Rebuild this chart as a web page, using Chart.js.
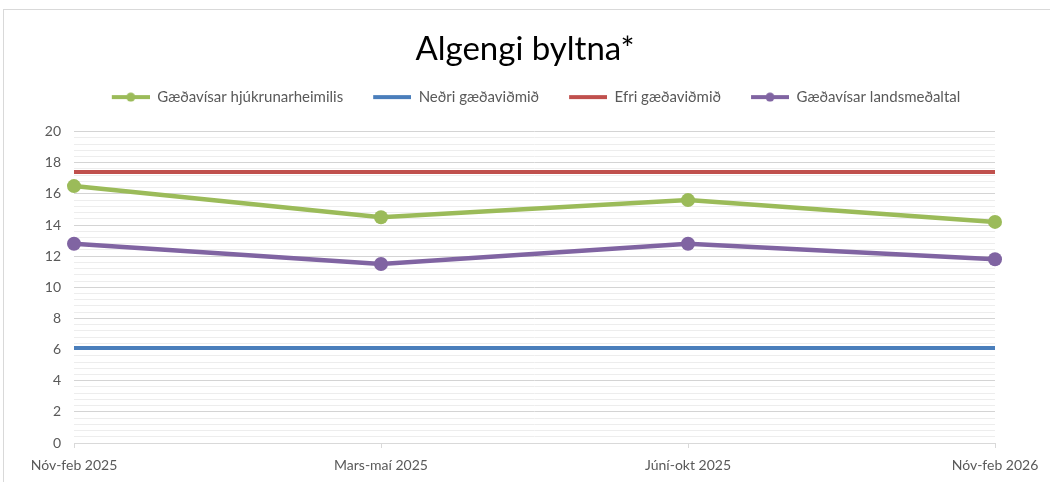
<!DOCTYPE html>
<html>
<head>
<meta charset="utf-8">
<script src="https://cdn.jsdelivr.net/npm/chart.js@4.4.1/dist/chart.umd.min.js"></script>
<style>
    html, body { margin: 0; padding: 0; background: #fff; overflow: hidden; }
    #wrap { position: relative; width: 1050px; height: 482px; }
    #frame { position: absolute; left: 3px; top: 9px; width: 1100px; height: 520px; border: 1px solid #d9d9d9; }
    #chart { position: absolute; left: 0; top: 0; }
</style>
</head>
<body>
<div id="wrap">
    <div id="frame"></div>
    <canvas id="chart" width="1050" height="482"></canvas>
</div>
<script>
// Data
const categories = ['Nóv-feb 2025', 'Mars-maí 2025', 'Júní-okt 2025', 'Nóv-feb 2026'];
const heimilis = [16.5, 14.5, 15.6, 14.2];
const nedriVidmid = [6.1, 6.1, 6.1, 6.1];
const efriVidmid = [17.4, 17.4, 17.4, 17.4];
const landsmedaltal = [12.8, 11.5, 12.8, 11.8];
const yLabels = [0, 2, 4, 6, 8, 10, 12, 14, 16, 18, 20];

const FONT = 'Lato';
const GREY = '#595959';

function isLabelled(v) {
    return yLabels.some(l => Math.abs(l - v) < 1e-6);
}

// small legend icon: line with optional dot, blank space on the left acts as item gap
function legendIcon(color, dot) {
    const c = document.createElement('canvas');
    c.width = 60;
    c.height = 10;
    const ctx = c.getContext('2d');
    ctx.strokeStyle = color;
    ctx.lineWidth = 4;
    ctx.beginPath();
    ctx.moveTo(22, 5);
    ctx.lineTo(60, 5);
    ctx.stroke();
    if (dot) {
        ctx.fillStyle = color;
        ctx.beginPath();
        ctx.arc(41, 5, 4.5, 0, Math.PI * 2);
        ctx.fill();
    }
    return c;
}

const series = [
    { label: 'Gæðavísar hjúkrunarheimilis', data: heimilis, color: '#9bbb59', dot: true },
    { label: 'Neðri gæðaviðmið', data: nedriVidmid, color: '#4a7ebb', dot: false },
    { label: 'Efri gæðaviðmið', data: efriVidmid, color: '#c0504d', dot: false },
    { label: 'Gæðavísar landsmeðaltal', data: landsmedaltal, color: '#8064a2', dot: true }
];

const icons = series.map(s => legendIcon(s.color, s.dot));

new Chart(document.getElementById('chart').getContext('2d'), {
    type: 'line',
    data: {
        labels: categories,
        datasets: series.map(s => ({
            label: s.label,
            data: s.data,
            borderColor: s.color,
            backgroundColor: s.color,
            borderWidth: s.dot ? 4.5 : 4,
            pointRadius: s.dot ? 7 : 0,
            pointHoverRadius: s.dot ? 7 : 0,
            pointBorderWidth: 0,
            tension: 0,
            fill: false,
            order: s.dot ? 0 : 1
        }))
    },
    options: {
        responsive: false,
        animation: false,
        events: [],
        layout: { padding: 0 },
        plugins: {
            title: {
                display: true,
                text: 'Algengi byltna*',
                color: '#000',
                font: { family: FONT, size: 33, weight: 'normal', lineHeight: 1.2 },
                padding: { top: 30, bottom: 12 }
            },
            legend: {
                position: 'top',
                labels: {
                    usePointStyle: true,
                    pointStyleWidth: 60,
                    padding: 8,
                    color: GREY,
                    font: { family: FONT, size: 15 },
                    generateLabels: chart => chart.data.datasets.map((ds, i) => ({
                        text: ds.label,
                        pointStyle: icons[i],
                        fillStyle: ds.borderColor,
                        strokeStyle: ds.borderColor,
                        lineWidth: 0,
                        fontColor: GREY,
                        hidden: false,
                        datasetIndex: i
                    }))
                }
            },
            // blank spacer between legend and plot
            subtitle: {
                display: true,
                text: '',
                weight: 500,
                font: { size: 10, lineHeight: 1 },
                padding: { top: 0, bottom: 7 }
            },
            tooltip: { enabled: false }
        },
        scales: {
            x: {
                offset: false,
                grid: { drawOnChartArea: false, drawTicks: true, tickLength: 5, color: '#d9d9d9' },
                border: { color: '#d9d9d9' },
                ticks: { color: GREY, font: { family: FONT, size: 14 }, padding: 9, maxRotation: 0 },
                afterFit: scale => { scale.height = 39; }
            },
            y: {
                min: 0,
                max: 20,
                border: { display: false },
                grid: {
                    drawTicks: false,
                    color: ctx => isLabelled(ctx.tick.value) ? '#d4d4d4' : '#ededed',
                    lineWidth: 1
                },
                ticks: {
                    stepSize: 0.4,
                    autoSkip: false,
                    padding: 13,
                    color: GREY,
                    font: { family: FONT, size: 14 },
                    callback: v => isLabelled(v) ? Math.round(v) : ''
                },
                afterFit: scale => { scale.width = 74; }
            },
            // empty right-hand scale, only reserves the margin right of the plot
            yRight: {
                type: 'linear',
                position: 'right',
                display: true,
                grid: { display: false },
                border: { display: false },
                ticks: { display: false },
                afterFit: scale => { scale.width = 55; }
            }
        }
    }
});
</script>
</body>
</html>
